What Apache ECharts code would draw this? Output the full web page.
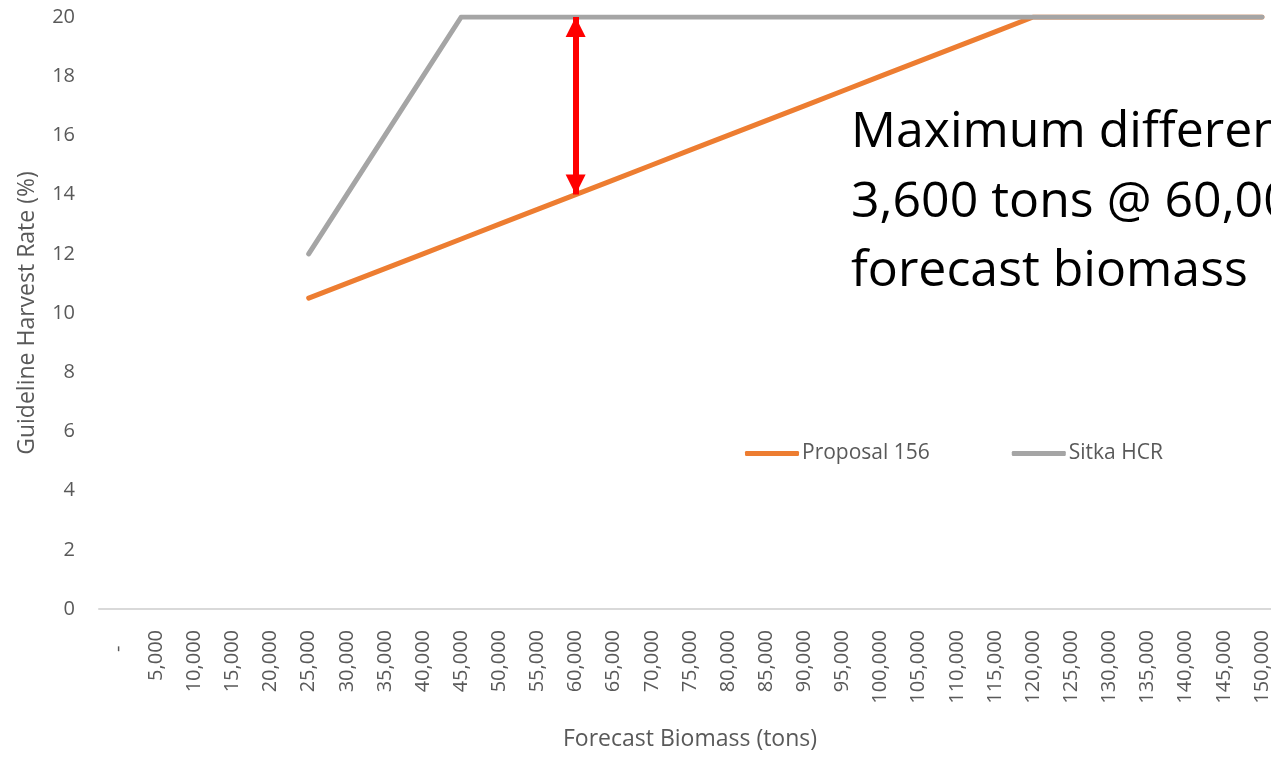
<!DOCTYPE html>
<html>
<head>
<meta charset="utf-8">
<script src="https://cdn.jsdelivr.net/npm/echarts@6/dist/echarts.min.js"></script>
<style>
  html, body { margin: 0; padding: 0; background: #fff; }
  #chart { width: 1271px; height: 757px; }
</style>
</head>
<body>
<div id="chart"></div>
<script>
const categories = ['-', '5,000', '10,000', '15,000', '20,000', '25,000', '30,000', '35,000', '40,000', '45,000',
  '50,000', '55,000', '60,000', '65,000', '70,000', '75,000', '80,000', '85,000', '90,000', '95,000',
  '100,000', '105,000', '110,000', '115,000', '120,000', '125,000', '130,000', '135,000', '140,000', '145,000', '150,000'];

const proposal156 = [null, null, null, null, null, 10.5, 11, 11.5, 12, 12.5,
  13, 13.5, 14, 14.5, 15, 15.5, 16, 16.5, 17, 17.5,
  18, 18.5, 19, 19.5, 20, 20, 20, 20, 20, 20, 20];

const sitkaHCR = [null, null, null, null, null, 12, 14, 16, 18, 20,
  20, 20, 20, 20, 20, 20, 20, 20, 20, 20,
  20, 20, 20, 20, 20, 20, 20, 20, 20, 20, 20];

const yTicks = { min: 0, max: 20, interval: 2 };

const arrowCategory = '60,000';
const arrowFrom = 14;
const arrowTo = 20;

const annotationLines = ['Maximum difference', '3,600 tons @ 60,000', 'forecast biomass'];

const FONT = '"Open Sans", sans-serif';
const TXT = '#595959';

const chart = echarts.init(document.getElementById('chart'), null, { renderer: 'canvas' });
chart.setOption({
  animation: false,
  backgroundColor: '#ffffff',
  grid: { left: 99, right: -10, top: 17, bottom: 148, containLabel: false, outerBoundsMode: 'none' },
  legend: {
    left: 745, top: 443, padding: 0,
    itemWidth: 54, itemHeight: 5, itemGap: 82,
    icon: 'roundRect',
    textStyle: { color: TXT, fontFamily: FONT, fontSize: 21, padding: [0, 0, 0, -2] },
    data: ['Proposal 156', 'Sitka HCR']
  },
  xAxis: {
    type: 'category',
    data: categories,
    boundaryGap: true,
    name: 'Forecast Biomass (tons)',
    nameLocation: 'middle',
    nameGap: 119,
    nameTextStyle: { color: TXT, fontFamily: FONT, fontSize: 23 },
    axisLine: { show: true, lineStyle: { color: '#D9D9D9', width: 2 } },
    axisTick: { show: false },
    axisLabel: {
      rotate: 90, margin: 21, interval: 0,
      color: TXT, fontFamily: FONT, fontSize: 20,
      formatter: v => v === '-' ? '-   ' : v
    },
    splitLine: { show: false }
  },
  yAxis: {
    type: 'value',
    min: yTicks.min, max: yTicks.max, interval: yTicks.interval,
    name: 'Guideline Harvest Rate (%)',
    nameLocation: 'middle',
    nameGap: 60,
    nameTextStyle: { color: TXT, fontFamily: FONT, fontSize: 23 },
    axisLine: { show: false },
    axisTick: { show: false },
    axisLabel: { margin: 24, color: TXT, fontFamily: FONT, fontSize: 20 },
    splitLine: { show: false }
  },
  series: [
    {
      name: 'Proposal 156', type: 'line', data: proposal156,
      symbol: 'none', connectNulls: false,
      itemStyle: { color: '#ED7D31' },
      lineStyle: { color: '#ED7D31', width: 5, cap: 'round', join: 'round' },
      z: 2
    },
    {
      name: 'Sitka HCR', type: 'line', data: sitkaHCR,
      symbol: 'none', connectNulls: false,
      itemStyle: { color: '#A5A5A5' },
      lineStyle: { color: '#A5A5A5', width: 5, cap: 'round', join: 'round' },
      z: 3,
      markLine: {
        silent: true,
        animation: false,
        symbol: ['triangle', 'triangle'],
        symbolSize: [20, 20],
        symbolOffset: [[0, 10], [0, 10]],
        label: { show: false },
        lineStyle: { color: '#FF0000', width: 6, type: 'solid' },
        data: [[{ coord: [arrowCategory, arrowFrom] }, { coord: [arrowCategory, arrowTo] }]],
        z: 10
      }
    }
  ],
  graphic: [{
    type: 'text', left: 851, top: 98, silent: true,
    style: {
      text: annotationLines.join('\n'),
      fill: '#000000', font: '50px "Open Sans", sans-serif',
      lineHeight: 69.5
    }
  }]
});
</script>
</body>
</html>
